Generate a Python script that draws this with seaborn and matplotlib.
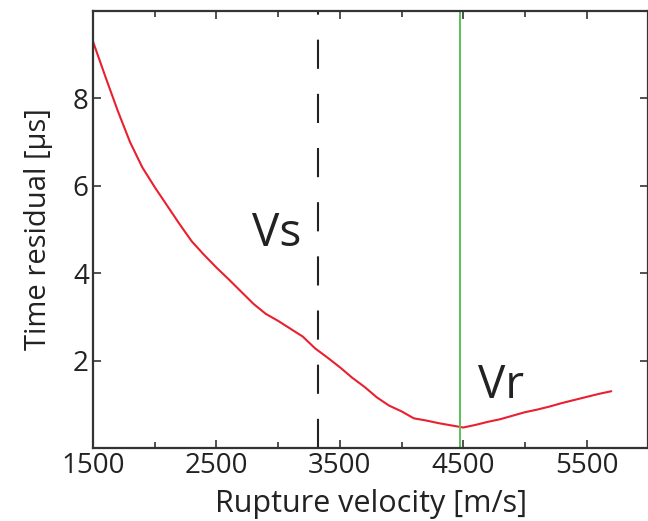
import numpy as np
import pandas as pd
import matplotlib
matplotlib.use("Agg")
import matplotlib.pyplot as plt
import seaborn as sns
from matplotlib.ticker import MultipleLocator

# Rupture velocity scan (m/s) and the time residual (microseconds)
velocity = [1500, 1600, 1700, 1800, 1900, 2000, 2100, 2200, 2300, 2400,
            2500, 2600, 2700, 2800, 2900, 3000, 3100, 3200, 3300, 3400,
            3500, 3600, 3700, 3800, 3900, 4000, 4100, 4200, 4300, 4400,
            4500, 4600, 4700, 4800, 4900, 5000, 5100, 5200, 5300, 5400,
            5500, 5600, 5700]
residual = [9.30, 8.50, 7.72, 7.00, 6.42, 5.97, 5.55, 5.13, 4.73, 4.42,
            4.13, 3.86, 3.58, 3.30, 3.07, 2.91, 2.73, 2.55, 2.28, 2.07,
            1.85, 1.61, 1.40, 1.16, 0.97, 0.84, 0.68, 0.63, 0.57, 0.52,
            0.47, 0.53, 0.60, 0.66, 0.74, 0.82, 0.88, 0.95, 1.03, 1.10,
            1.17, 1.24, 1.30]

vs_value = 3320
vr_value = 4475
x_ticks = [1500, 2500, 3500, 4500, 5500]
y_ticks = [2, 4, 6, 8]

df = pd.DataFrame({"velocity": velocity, "residual": residual})

sns.set_style("ticks")
plt.rcParams["font.family"] = ["Open Sans", "DejaVu Sans"]

fig = plt.figure(figsize=(6.48, 5.21), dpi=100)
ax = fig.add_axes([0.1435, 0.14, 0.857, 0.839])

sns.lineplot(data=df, x="velocity", y="residual", color="#e8202f",
             linewidth=1.5, ax=ax)

# Vs and Vr markers
ax.axvline(vs_value, color="#222222", linewidth=1.5, dashes=(14, 12))
ax.axvline(vr_value, color="#5cc05a", linewidth=1.4)
ax.text(2990, 4.9, "Vs", fontsize=33, ha="center", va="center", color="#222222")
ax.text(4806, 1.42, "Vr", fontsize=33, ha="center", va="center", color="#222222")

ax.set_xlim(1500, 6000)
ax.set_ylim(0, 10)
ax.set_xticks(x_ticks)
ax.set_yticks(y_ticks)
ax.xaxis.set_minor_locator(MultipleLocator(500))
ax.tick_params(which="both", direction="in", top=True, right=True,
               colors="#333333", labelcolor="#222222", width=1.2)
ax.tick_params(which="major", length=6, labelsize=20, pad=3)
ax.tick_params(which="minor", length=4)
for s in ax.spines.values():
    s.set_color("#333333")
    s.set_linewidth(1.6)

ax.set_xlabel("Rupture velocity [m/s]", fontsize=22, color="#222222", labelpad=6)
ax.set_ylabel("Time residual [μs]", fontsize=21, color="#222222", labelpad=14)

fig.savefig("out.png", dpi=100)
